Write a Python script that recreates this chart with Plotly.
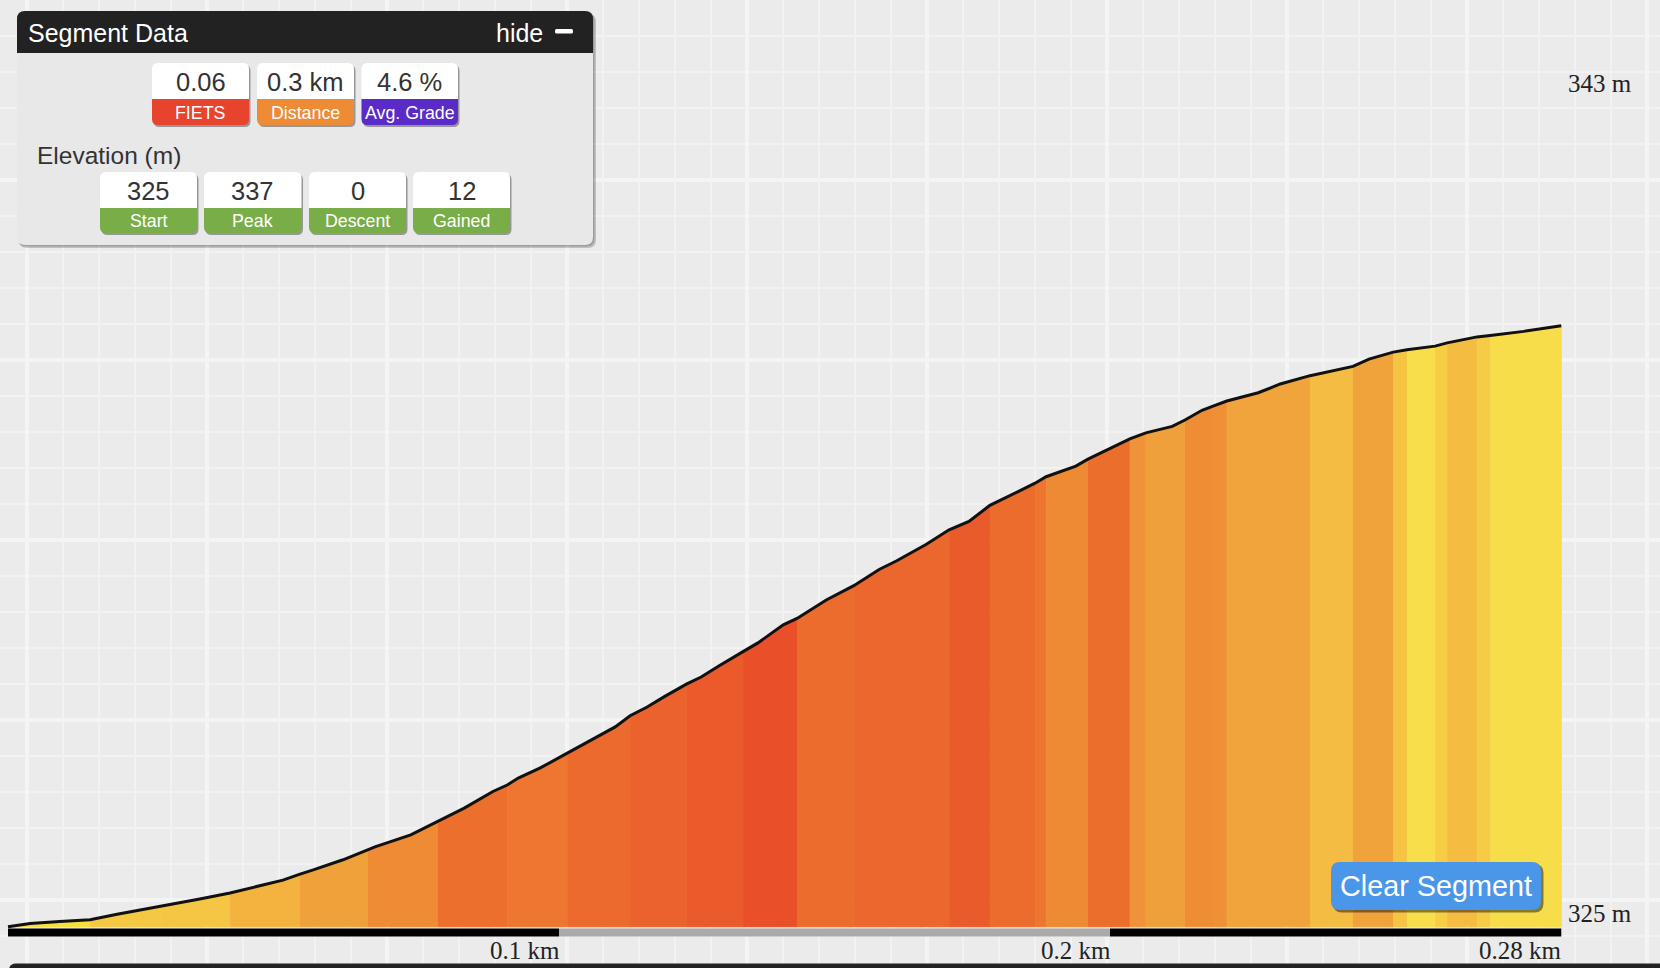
import numpy as np
import plotly.graph_objects as go

# Elevation profile (distance in km, elevation in m)
DIST = [0.0, 0.0040, 0.0094, 0.0149, 0.0198, 0.0240, 0.0279, 0.0309, 0.0348, 0.0403,
        0.0472, 0.0499, 0.0530, 0.0554, 0.0608, 0.0653, 0.0666, 0.0731, 0.0780, 0.0828,
        0.0880, 0.0906, 0.0926, 0.0966, 0.1015, 0.1056, 0.1102, 0.1129, 0.1160, 0.1192,
        0.1232, 0.1258, 0.1290, 0.1334, 0.1361, 0.1407, 0.1432, 0.1485, 0.1535, 0.1581,
        0.1613, 0.1666, 0.1708, 0.1744, 0.1782, 0.1835, 0.1864, 0.1884, 0.1938, 0.1960,
        0.1982, 0.2036, 0.2065, 0.2113, 0.2136, 0.2167, 0.2187, 0.2212, 0.2269, 0.2309,
        0.2363, 0.2441, 0.2470, 0.2514, 0.2539, 0.2590, 0.2612, 0.2666, 0.2690, 0.2751,
        0.2819]
ELEV = [325.00, 325.07, 325.11, 325.15, 325.27, 325.36, 325.45, 325.51, 325.60, 325.73,
        325.93, 326.01, 326.14, 326.23, 326.45, 326.66, 326.73, 326.99, 327.28, 327.57,
        327.93, 328.07, 328.22, 328.44, 328.76, 329.02, 329.33, 329.57, 329.76, 329.99,
        330.26, 330.41, 330.65, 330.96, 331.15, 331.54, 331.68, 332.08, 332.39, 332.74,
        332.93, 333.28, 333.60, 333.78, 334.13, 334.44, 334.61, 334.75, 334.98, 335.13,
        335.26, 335.57, 335.70, 335.84, 335.98, 336.19, 336.28, 336.39, 336.57, 336.76,
        336.94, 337.14, 337.30, 337.45, 337.50, 337.58, 337.65, 337.78, 337.81, 337.90,
        338.02]

# gradient colour bands along the profile
BAND_EDGES = [0.0, 0.0149, 0.0279, 0.0403, 0.0530, 0.0653, 0.0780, 0.0906, 0.1015, 0.1129,
              0.1232, 0.1334, 0.1432, 0.1535, 0.1708, 0.1782, 0.1864, 0.1884, 0.1960, 0.2036,
              0.2065, 0.2136, 0.2187, 0.2212, 0.2363, 0.2441, 0.2514, 0.2539, 0.2590, 0.2612,
              0.2666, 0.2690, 0.2819]
BAND_COLORS = ["#f7df3c", "#f5c843", "#f5c544", "#f3b33e", "#f1a13a", "#ef8b35", "#ed6f2e",
               "#ee7631", "#ec6a2e", "#eb622c", "#ea5a2b", "#e9502a", "#ec6c2e", "#ec672d",
               "#ea5b2b", "#ec6c2e", "#ee7530", "#ef8a34", "#ec6e2d", "#f0923a", "#f0a03a",
               "#ef8d35", "#ef9035", "#f0a43b", "#f4bc42", "#f0a33b", "#f5c443", "#f8de4a",
               "#f6ce46", "#f4bd42", "#f6cb45", "#f8dd4b"]

# distance marks: 0.1, 0.2 and the segment end (0.28 km)
X_TICKS = [0.1, 0.2, 0.2819]
X_TICK_TEXT = ["0.1 km", "0.2 km", "0.28 km"]
Y_TICKS = [325, 343]
Y_TICK_TEXT = ["325 m", "343 m"]
SCALE_BAR_COLORS = ["#000000", "#aaaaaa", "#000000"]

# segment summary
TOP_VALUES = ["0.06", "0.3 km", "4.6 %"]
TOP_LABELS = ["FIETS", "Distance", "Avg. Grade"]
TOP_COLORS = ["#e8432d", "#ee8b35", "#5a2bc6"]
ELEV_VALUES = ["325", "337", "0", "12"]
ELEV_LABELS = ["Start", "Peak", "Descent", "Gained"]
ELEV_COLOR = "#79ad47"

W, H = 1660, 968
X0_PX, KM_PX = 8, 5510.0          # pixel of 0 km, pixels per km
Y0_PX, M_PX = 926.7, 46.15         # pixel of 325 m, pixels per m
BASE = 325


def rrect(x0, y0, x1, y1, r, top=True, bottom=True):
    rt = r if top else 0
    rb = r if bottom else 0
    return (f"M{x0+rt},{y0} L{x1-rt},{y0} Q{x1},{y0} {x1},{y0+rt} "
            f"L{x1},{y1-rb} Q{x1},{y1} {x1-rb},{y1} L{x0+rb},{y1} "
            f"Q{x0},{y1} {x0},{y1-rb} L{x0},{y0+rt} Q{x0},{y0} {x0+rt},{y0} Z")


def box(x0, y0, x1, y1, r, color, top=True, bottom=True, xref="x", yref="y"):
    return dict(type="path", path=rrect(x0, y0, x1, y1, r, top, bottom), xref=xref, yref=yref,
                fillcolor=color, line=dict(width=0), layer="above")


def text(x, y, s, size, color, anchor="center", font="Liberation Sans", xref="x", yref="y", **kw):
    return dict(x=x, y=y, text=s, showarrow=False, xref=xref, yref=yref, xanchor=anchor,
                yanchor="middle", font=dict(family=font, size=size, color=color), **kw)


dist = np.array(DIST)
elev = np.array(ELEV)

fig = go.Figure()
# empty trace so the background grid subplot exists
fig.add_trace(go.Scatter(x=[], y=[], xaxis="x", yaxis="y", showlegend=False))

for i, col in enumerate(BAND_COLORS):
    m = (dist >= BAND_EDGES[i] - 1e-9) & (dist <= BAND_EDGES[i + 1] + 1e-9)
    xs = list(dist[m]) + [BAND_EDGES[i + 1], BAND_EDGES[i]]
    ys = list(elev[m]) + [BASE, BASE]
    fig.add_trace(go.Scatter(x=xs, y=ys, xaxis="x2", yaxis="y2", mode="lines",
                             fill="toself", fillcolor=col, line=dict(color=col, width=1),
                             hoverinfo="skip", showlegend=False))

fig.add_trace(go.Scatter(x=DIST, y=ELEV, xaxis="x2", yaxis="y2", mode="lines",
                         line=dict(color="#111111", width=3), showlegend=False))

shapes = []
anns = []

# scale bar under the profile
bar_edges = [0.0, X_TICKS[0], X_TICKS[1], DIST[-1]]
for i, col in enumerate(SCALE_BAR_COLORS):
    shapes.append(dict(type="rect", xref="x2", yref="y", x0=bar_edges[i], x1=bar_edges[i + 1],
                       y0=928.6, y1=936.6, fillcolor=col, line=dict(width=0), layer="above"))
for v, t in zip(X_TICKS, X_TICK_TEXT):
    anns.append(text(v, 950, t, 25, "#222222", anchor="right", font="Liberation Serif",
                     xref="x2", xshift=3))
for v, t in zip(Y_TICKS, Y_TICK_TEXT):
    anns.append(text(1566, v, t, 25, "#222222", anchor="left", font="Liberation Serif",
                     yref="y2", yshift=13))

# dark strip at the bottom edge
shapes.append(box(9, 963.5, 1680, 990, 7, "#222222"))

# segment data panel
shapes.append(box(19, 14, 596, 248, 8, "rgba(0,0,0,0.18)"))
shapes.append(box(18, 12, 594.5, 246.5, 8, "rgba(0,0,0,0.18)"))
shapes.append(box(17, 11, 593, 245, 8, "#e8e8e8"))
shapes.append(box(17, 11, 593, 53, 8, "#222222", bottom=False))
anns.append(text(26, 33, "Segment Data", 25, "#ffffff", anchor="left"))
anns.append(text(494, 33, "hide", 25, "#ffffff", anchor="left"))
shapes.append(box(555, 29, 573, 33.5, 1.5, "#ffffff"))
anns.append(text(35, 155, "Elevation (m)", 24.5, "#333333", anchor="left"))


def badge(x0, x1, y0, ysplit, y1, value, label, color):
    shapes.append(box(x0 + 1.5, y0 + 2, x1 + 1.5, y1 + 2, 6, "rgba(0,0,0,0.35)"))
    shapes.append(box(x0, y0, x1, ysplit, 6, "#ffffff", bottom=False))
    shapes.append(box(x0, ysplit, x1, y1, 6, color, top=False))
    cx = (x0 + x1) / 2
    anns.append(text(cx, (y0 + ysplit) / 2 + 0.5, value, 25.5, "#333333"))
    anns.append(text(cx, (ysplit + y1) / 2 + 0.5, label, 17.8, "#ffffff"))


top_x = [(152, 249), (257, 354), (361.5, 458)]
for (x0, x1), v, lab, col in zip(top_x, TOP_VALUES, TOP_LABELS, TOP_COLORS):
    badge(x0, x1, 63, 99, 125, v, lab, col)

elev_x = [(100, 197), (204, 301.5), (309, 406), (413, 510)]
for (x0, x1), v, lab in zip(elev_x, ELEV_VALUES, ELEV_LABELS):
    badge(x0, x1, 172, 208, 233, v, lab, ELEV_COLOR)

# clear segment button
shapes.append(box(1333, 864, 1543.5, 912.5, 9, "rgba(0,0,0,0.45)"))
shapes.append(box(1331, 862, 1541, 910, 9, "#4a96e8"))
anns.append(text(1436, 886, "Clear Segment", 28.8, "#ffffff"))

fig.update_layout(
    width=W, height=H,
    margin=dict(l=0, r=0, t=0, b=0),
    paper_bgcolor="#ebebeb", plot_bgcolor="#ebebeb",
    showlegend=False,
    xaxis=dict(range=[0, W], showgrid=True, gridcolor="#f4f4f4", gridwidth=3.5,
               tick0=26.7, dtick=180, showticklabels=False, ticks="", zeroline=False,
               showline=False, fixedrange=True,
               minor=dict(tick0=26.7, dtick=36, showgrid=True, gridcolor="#f2f2f2", gridwidth=2)),
    yaxis=dict(range=[H, 0], showgrid=True, gridcolor="#f4f4f4", gridwidth=3.5,
               tick0=0, dtick=180, showticklabels=False, ticks="", zeroline=False,
               showline=False, fixedrange=True,
               minor=dict(tick0=0, dtick=36, showgrid=True, gridcolor="#f2f2f2", gridwidth=2)),
    xaxis2=dict(range=[-X0_PX / KM_PX, (W - X0_PX) / KM_PX], overlaying="x", anchor="y2",
                visible=False, fixedrange=True),
    yaxis2=dict(range=[BASE - (H - Y0_PX) / M_PX, BASE + Y0_PX / M_PX], overlaying="y",
                anchor="x2", visible=False, fixedrange=True),
    shapes=shapes,
    annotations=anns,
)

# drop the default page margin so the figure fills the window
fig.write_html("out.html", config={"displayModeBar": False},
               post_script="document.body.style.margin='0';"
                           "document.body.style.background='#ebebeb';")
